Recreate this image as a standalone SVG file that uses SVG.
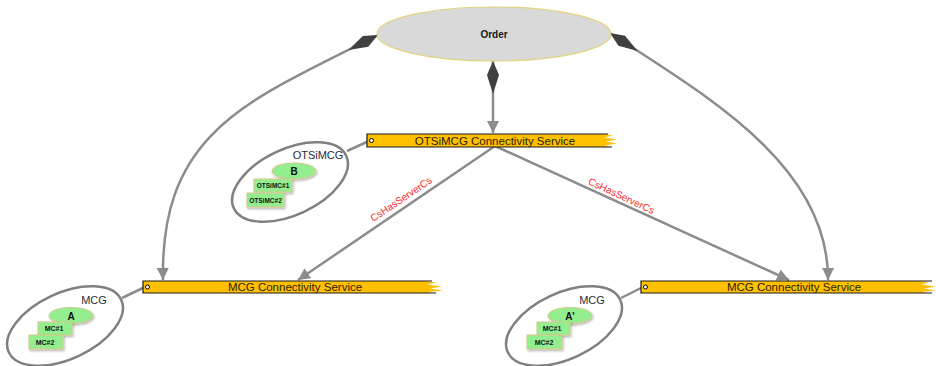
<svg xmlns="http://www.w3.org/2000/svg" width="936" height="366" viewBox="0 0 936 366">
<style>
  .line{fill:none;stroke:#8c8c8c;stroke-width:2.5}
  .grp{fill:#fff;stroke:#808080;stroke-width:2.5}
  .bar{fill:#ffc000}
  .barEdge{fill:none;stroke:#1a1a1a;stroke-width:1.2}
  .port{fill:#fff;stroke:#000;stroke-width:1}
  .barText{font-family:"Liberation Sans",Arial,sans-serif;font-size:11.5px;fill:#2b2200;text-anchor:middle}
  .grpText{font-family:"Liberation Sans",Arial,sans-serif;font-size:11px;fill:#2a2a40;text-anchor:middle}
  .green{fill:#93ee8f;stroke:#d8c98c;stroke-width:1;filter:url(#sh)}
  .tiny{font-family:"Liberation Sans",Arial,sans-serif;font-weight:bold;fill:#111;text-anchor:middle}
  .lbl{font-family:"Liberation Sans",Arial,sans-serif;font-size:10px;fill:#ff2a2a;text-anchor:middle}
</style>
<defs>
  <filter id="sh" x="-20%" y="-20%" width="150%" height="160%">
    <feDropShadow dx="1" dy="1.5" stdDeviation="1" flood-color="#000" flood-opacity="0.3"/>
  </filter>
  <marker id="dia" markerUnits="userSpaceOnUse" markerWidth="36" markerHeight="16" refX="0" refY="7" orient="auto" viewBox="0 0 36 14">
    <path d="M0,7 L14,1 L33,7 L14,13 Z" fill="#404040"/>
  </marker>
  <marker id="arr" markerUnits="userSpaceOnUse" markerWidth="14" markerHeight="14" refX="12" refY="6" orient="auto" viewBox="0 0 14 12">
    <path d="M0,0 L12,6 L0,12 Z" fill="#8c8c8c"/>
  </marker>
</defs>

<g id="connectors">
  <path class="line" d="M378,35 C250,100 160,130 163,280" marker-start="url(#dia)" marker-end="url(#arr)"/>
  <path class="line" d="M610,33 C705,95 829,165 828,280" marker-start="url(#dia)" marker-end="url(#arr)"/>
  <path class="line" d="M493,61 L493,133" marker-start="url(#dia)" marker-end="url(#arr)"/>
  <path class="line" d="M495,146 L298,280" marker-end="url(#arr)"/>
  <path class="line" d="M495,146 L789,280" marker-end="url(#arr)"/>
  <line class="line" x1="347" y1="151" x2="369" y2="141"/>
  <line class="line" x1="122" y1="298" x2="145" y2="287"/>
  <line class="line" x1="621" y1="298" x2="643" y2="287"/>
  <text class="lbl" transform="translate(403,202) rotate(-34)">CsHasServerCs</text>
  <text class="lbl" transform="translate(620,199) rotate(25)">CsHasServerCs</text>
</g>

<g id="order">
  <ellipse cx="494" cy="34" rx="117" ry="27" fill="#d9d9d9" stroke="#e4d27c" stroke-width="1.2"/>
  <text x="494" y="38" font-family="Liberation Sans,Arial,sans-serif" font-size="10" font-weight="bold" fill="#1a1a1a" text-anchor="middle">Order</text>
</g>

<g id="otsimcg-cs">
  <path class="bar" d="M367,134 H603 L613,135.5 L604,137.5 L617,139.5 L606,141.5 L617,143.5 L605,145.5 L611,147 H367 Z"/>
  <path class="barEdge" d="M608,134 H367 V147 H612"/>
  <circle class="port" cx="371.5" cy="140.5" r="2"/>
  <text class="barText" x="495" y="145">OTSiMCG Connectivity Service</text>
</g>

<g id="mcg-cs-left">
  <path class="bar" d="M143,281 H425 L436,282.5 L427,284.5 L442,286.5 L430,288.5 L443,290.5 L428,292 L432,293 H143 Z"/>
  <path class="barEdge" d="M432,281 H143 V293 H436"/>
  <circle class="port" cx="147.5" cy="287" r="2"/>
  <text class="barText" x="295" y="291">MCG Connectivity Service</text>
</g>

<g id="mcg-cs-right">
  <path class="bar" d="M641,281 H920 L929,282.5 L921,284.5 L936,286.5 L924,288.5 L936,290.5 L922,292 L928,293 H641 Z"/>
  <path class="barEdge" d="M932,281 H641 V293 H932"/>
  <circle class="port" cx="645.5" cy="287" r="2"/>
  <text class="barText" x="794" y="291">MCG Connectivity Service</text>
</g>

<g id="otsimcg-group">
  <ellipse class="grp" cx="290" cy="182" rx="62" ry="33" transform="rotate(-25 290 182)"/>
  <text class="grpText" x="318" y="159">OTSiMCG</text>
  <ellipse class="green" cx="294" cy="171" rx="22" ry="8"/>
  <text x="294" y="175" font-family="Liberation Sans,Arial,sans-serif" font-size="10" font-weight="bold" fill="#111" text-anchor="middle">B</text>
  <rect class="green" x="254" y="179" width="38" height="13"/>
  <text class="tiny" x="273" y="188" font-size="6.5">OTSiMC#1</text>
  <rect class="green" x="247" y="193" width="37" height="14"/>
  <text class="tiny" x="265.5" y="202.5" font-size="6.5">OTSiMC#2</text>
</g>

<g id="mcg-group-left">
  <ellipse class="grp" cx="65" cy="326" rx="62" ry="33" transform="rotate(-25 65 326)"/>
  <text class="grpText" x="94" y="304">MCG</text>
  <ellipse class="green" cx="71" cy="315.5" rx="22" ry="8"/>
  <text x="71" y="319.5" font-family="Liberation Sans,Arial,sans-serif" font-size="10" font-weight="bold" fill="#111" text-anchor="middle">A</text>
  <rect class="green" x="38" y="322" width="34" height="13"/>
  <text class="tiny" x="54" y="331" font-size="7">MC#1</text>
  <rect class="green" x="29" y="335" width="34" height="14"/>
  <text class="tiny" x="45" y="344.5" font-size="7">MC#2</text>
</g>

<g id="mcg-group-right">
  <ellipse class="grp" cx="564" cy="326" rx="62" ry="33" transform="rotate(-25 564 326)"/>
  <text class="grpText" x="592" y="304">MCG</text>
  <ellipse class="green" cx="570" cy="315.5" rx="22" ry="8"/>
  <text x="570" y="319.5" font-family="Liberation Sans,Arial,sans-serif" font-size="10" font-weight="bold" fill="#111" text-anchor="middle">A’</text>
  <rect class="green" x="537" y="322" width="33" height="13"/>
  <text class="tiny" x="552" y="331" font-size="7">MC#1</text>
  <rect class="green" x="527" y="335" width="35" height="14"/>
  <text class="tiny" x="544" y="344.5" font-size="7">MC#2</text>
</g>
</svg>
